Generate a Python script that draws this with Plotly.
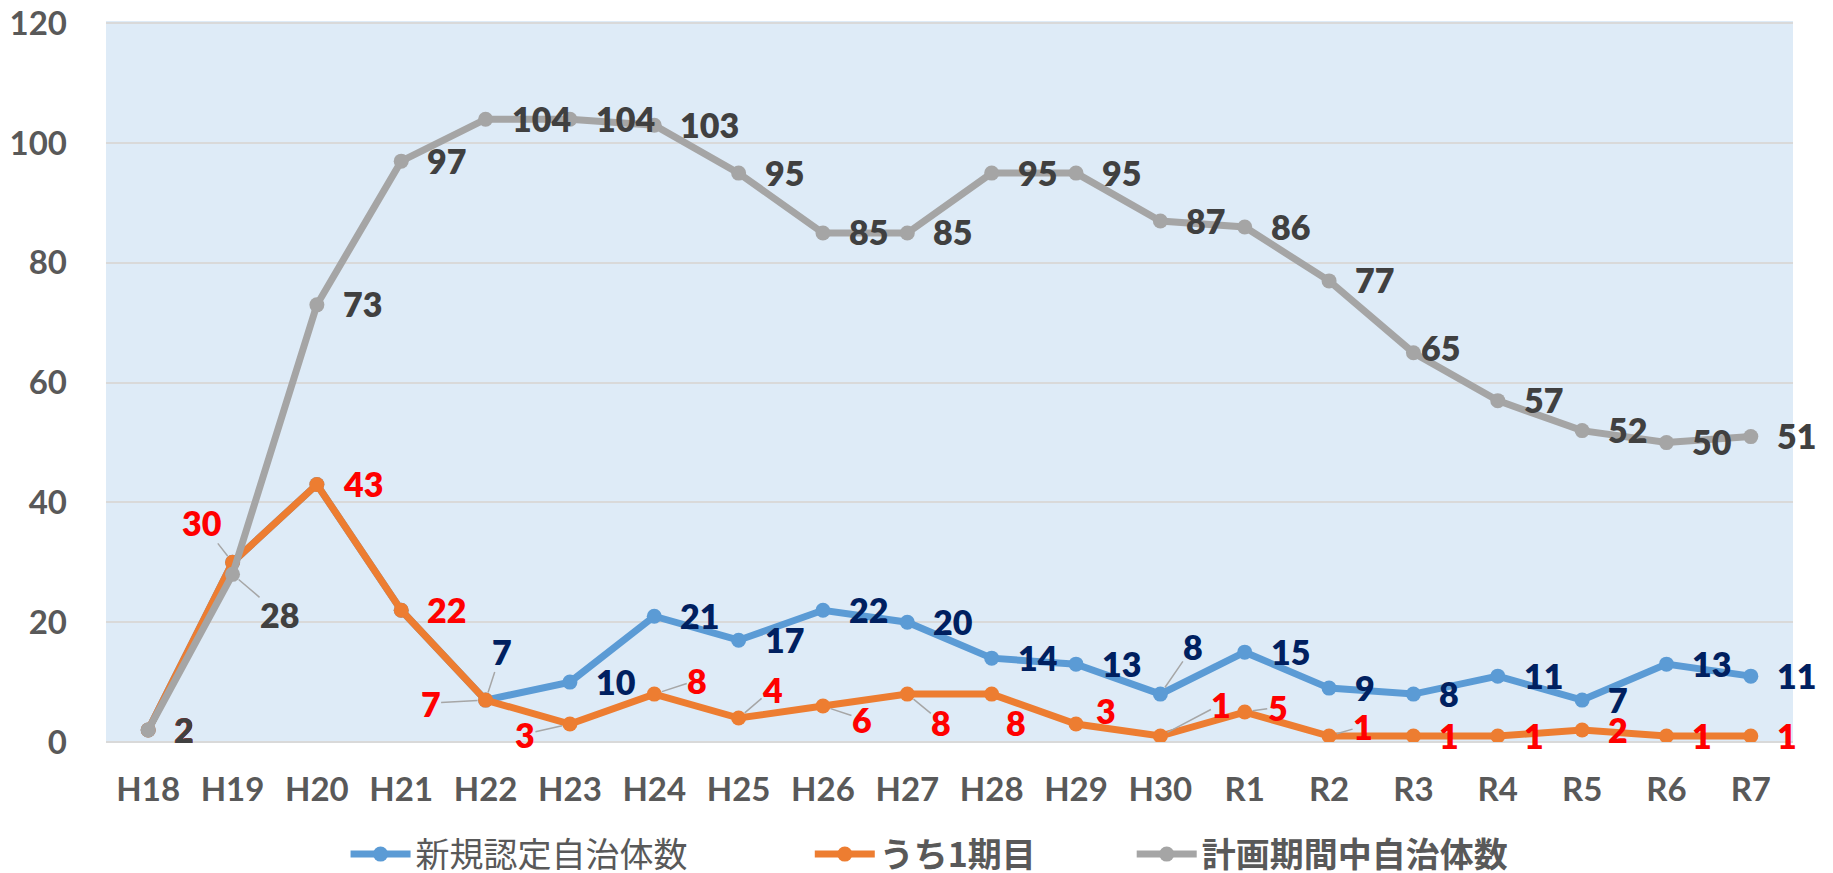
import plotly.graph_objects as go

categories = ["H18", "H19", "H20", "H21", "H22", "H23", "H24", "H25", "H26", "H27",
              "H28", "H29", "H30", "R1", "R2", "R3", "R4", "R5", "R6", "R7"]
new_certified = [2, 30, 43, 22, 7, 10, 21, 17, 22, 20, 14, 13, 8, 15, 9, 8, 11, 7, 13, 11]
first_period = [2, 30, 43, 22, 7, 3, 8, 4, 6, 8, 8, 3, 1, 5, 1, 1, 1, 2, 1, 1]
in_plan_period = [2, 28, 73, 97, 104, 104, 103, 95, 85, 85, 95, 95, 87, 86, 77, 65, 57, 52, 50, 51]

series_names = [
    "新規認定自治体数" + "\u3000\u3000\u3000" + "\u00a0\u00a0",
    "<b>うち1期目</b>" + "\u3000\u3000" + "\u00a0\u00a0\u00a0",
    "<b>計画期間中自治体数</b>",
]
line_colors = ["#5B9BD5", "#ED7D31", "#A5A5A5"]
label_colors = ["#002060", "#FF0000", "#404040"]

# Label placement overrides: category -> (center dx, center dy (down +), leader line?)
blue_overrides = {"H22": (16, -49, True), "H30": (33, -48, True)}
blue_hidden = {"H18", "H19", "H20", "H21"}
red_overrides = {
    "H19": (-31, -40, True), "H22": (-55, 3, True), "H23": (-45, 10, True),
    "H24": (43, -14, True), "H25": (34, -29, True), "H26": (39, 13, True),
    "H27": (34, 28, True), "H28": (24, 28, False), "H29": (30, -14, False),
    "H30": (61, -32, True), "R1": (33, -5, True), "R2": (34, -10, True),
}
grey_overrides = {"H19": (47, 40, True), "R3": (27, -5, False)}

LABEL_FONT = "Lato, 'Open Sans', sans-serif"
fig = go.Figure()

all_series = [new_certified, first_period, in_plan_period]
for vals, name, col in zip(all_series, series_names, line_colors):
    fig.add_trace(go.Scatter(
        x=categories, y=vals, name=name, mode="lines+markers",
        line=dict(color=col, width=7),
        marker=dict(color=col, size=15),
        hoverinfo="x+y",
    ))

annotations = []


def add_labels(vals, color, overrides, hidden=()):
    for c, v in zip(categories, vals):
        if c in hidden:
            continue
        font = dict(family=LABEL_FONT, size=34, color=color, weight=800)
        if c in overrides:
            dx, dy, leader = overrides[c]
            if leader:
                annotations.append(dict(
                    x=c, y=v, text=str(v), showarrow=True, ax=dx, ay=dy,
                    arrowhead=0, arrowwidth=1.5, arrowcolor="#A6A6A6",
                    standoff=8, font=font, xanchor="center", yanchor="middle",
                    borderpad=0,
                ))
            else:
                annotations.append(dict(
                    x=c, y=v, text=str(v), showarrow=False, xanchor="center",
                    yanchor="middle", xshift=dx, yshift=-dy, font=font,
                ))
        else:
            annotations.append(dict(
                x=c, y=v, text=str(v), showarrow=False, xanchor="left",
                yanchor="middle", xshift=24, yshift=1, font=font,
            ))


add_labels(first_period, label_colors[1], red_overrides)
add_labels(new_certified, label_colors[0], blue_overrides, blue_hidden)
add_labels(in_plan_period, label_colors[2], grey_overrides)

# The page body has an 8px margin, so the figure is sized and offset to fit.
fig.update_layout(
    width=1825, height=865,
    margin=dict(l=98, r=40, t=13, b=131, autoexpand=False),
    paper_bgcolor="white",
    plot_bgcolor="#DEEBF7",
    showlegend=True,
    legend=dict(
        orientation="h", x=0.142, xanchor="left", y=-0.156, yanchor="middle",
        font=dict(family="'Noto Sans CJK JP', sans-serif", size=34, color="#595959"),
        itemwidth=60, bgcolor="rgba(0,0,0,0)",
    ),
    annotations=annotations,
    hovermode="closest",
)
fig.update_xaxes(
    type="category", range=[-0.5, len(categories) - 0.5],
    showgrid=False, showline=False, zeroline=False,
    ticks="", ticklabelstandoff=25,
    tickfont=dict(family=LABEL_FONT, size=33, color="#595959", weight="bold"),
)
fig.update_yaxes(
    range=[0, 120.4], tickvals=[0, 20, 40, 60, 80, 100, 120],
    showgrid=True, gridcolor="#D9D9D9", gridwidth=2,
    zeroline=True, zerolinecolor="#D9D9D9", zerolinewidth=2, showline=False,
    ticks="", ticklabelstandoff=38, ticklabeloverflow="allow",
    tickfont=dict(family=LABEL_FONT, size=33, color="#595959", weight="bold"),
)

fig.write_html("out.html")
